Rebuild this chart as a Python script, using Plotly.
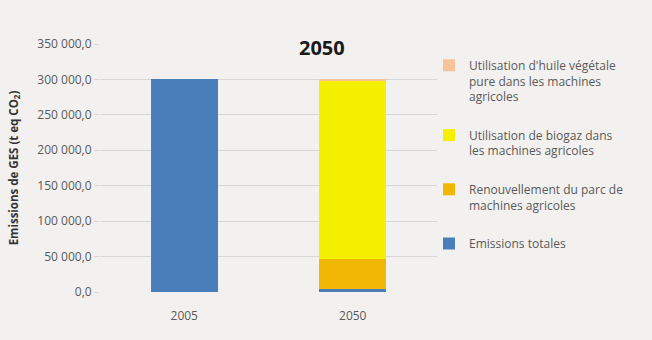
import plotly.graph_objects as go

# Categories and stacked series (t eq CO2)
years = ["2005", "2050"]
emissions_totales = [300000, 4500]
renouvellement = [0, 41500]
biogaz = [0, 252500]
huile_vegetale = [0, 1500]

series_names = [
    "Emissions totales",
    "Renouvellement du parc de<br>machines agricoles",
    "Utilisation de biogaz dans<br>les machines agricoles",
    "Utilisation d'huile végétale<br>pure dans les machines<br>agricoles",
]
series_values = [emissions_totales, renouvellement, biogaz, huile_vegetale]
series_colors = ["#4a7ebb", "#f2b705", "#f5f000", "#f7c49a"]
legend_ranks = [4, 3, 2, 1]

y_tick_values = [0, 50000, 100000, 150000, 200000, 250000, 300000, 350000]
y_tick_labels = ["0,0", "50 000,0", "100 000,0", "150 000,0", "200 000,0",
                 "250 000,0", "300 000,0", "350 000,0"]

fig = go.Figure()
for name, vals, col, rank in zip(series_names, series_values, series_colors, legend_ranks):
    fig.add_trace(go.Bar(
        x=years, y=vals, name=name, marker_color=col,
        marker_line_width=0, width=0.4, legendgroup=name, legendrank=rank,
    ))

W, H = 652, 340
L, R, T, B = 100, 215, 44, 48
pw, ph = W - L - R, H - T - B

fig.update_layout(
    barmode="stack",
    width=W, height=H,
    margin=dict(l=L, r=R, t=T, b=B),
    paper_bgcolor="#f3f1ef",
    plot_bgcolor="#f3f1ef",
    font=dict(family="Open Sans, Liberation Sans, sans-serif", size=12, color="#595959"),
    showlegend=True,
    legend=dict(
        x=(429 - L) / pw, xanchor="left", y=(H - B - 51) / ph, yanchor="top",
        traceorder="grouped", tracegroupgap=20, valign="top",
        font=dict(size=12, color="#595959"),
        bgcolor="rgba(0,0,0,0)", itemwidth=30,
    ),
    annotations=[dict(
        text="<b>2050</b>", xref="paper", yref="paper",
        x=(322 - L) / pw, y=(H - B - 47) / ph,
        xanchor="center", yanchor="middle", showarrow=False,
        font=dict(size=20, color="#1a1a1a"),
    )],
)

fig.update_xaxes(showgrid=False, showline=False, ticks="",
                 ticklabelstandoff=15,
                 tickfont=dict(size=12, color="#595959"))
fig.update_yaxes(
    range=[0, 350000], tickvals=y_tick_values, ticktext=y_tick_labels,
    showgrid=True, gridcolor="#d6d6d6", gridwidth=1, zeroline=False,
    ticks="outside", ticklen=5, tickcolor="#d6d6d6",
    tickfont=dict(size=12, color="#595959"),
    title=dict(text="<b>Emissions de GES (t eq CO<sub>2</sub>)</b>",
               font=dict(size=11.5, color="#333333"), standoff=16),
)

fig.write_html("out.html")
